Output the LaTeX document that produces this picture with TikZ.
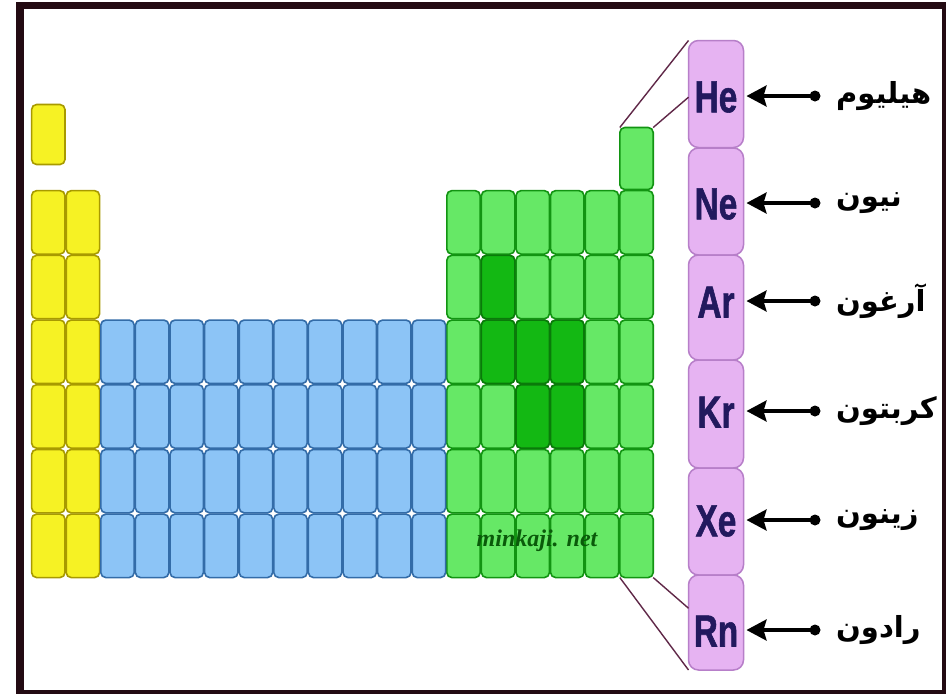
\documentclass[tikz,border=0pt]{standalone}
\usepackage{fontspec}
\usetikzlibrary{arrows.meta,calc}
\TeXXeTstate=1
\newfontfamily\arabicfont[Script=Arabic]{DejaVu Sans}
\newfontfamily\elfont[FakeStretch=0.74,FakeBold=1.2]{Liberation Sans}
\newfontfamily\webfont{Liberation Serif}
\definecolor{frameC}{HTML}{230A12}
\definecolor{yelF}{HTML}{F6F224}
\definecolor{yelD}{HTML}{A89A00}
\definecolor{bluF}{HTML}{8CC4F6}
\definecolor{bluD}{HTML}{336CA8}
\definecolor{grnF}{HTML}{66E866}
\definecolor{grnD}{HTML}{129412}
\definecolor{dgrF}{HTML}{13B813}
\definecolor{dgrD}{HTML}{0A7A0A}
\definecolor{purF}{HTML}{E6B3F2}
\definecolor{purD}{HTML}{B77FC9}
\definecolor{elC}{HTML}{22195E}
\definecolor{linkC}{HTML}{602848}
\definecolor{webC}{HTML}{0A5A0A}
\tikzset{
  cellbox/.style={rectangle, rounded corners=5pt, minimum width=33.4pt, minimum height=63.4pt, inner sep=0pt, outer sep=0pt, line width=1.6pt},
  ycell/.style={cellbox, fill=yelF, draw=yelD},
  bcell/.style={cellbox, fill=bluF, draw=bluD},
  gcell/.style={cellbox, fill=grnF, draw=grnD},
  dcell/.style={cellbox, fill=dgrF, draw=dgrD},
  pbox/.style={rectangle, rounded corners=10pt, minimum width=55pt, inner sep=0pt, outer sep=0pt, fill=purF, draw=purD, line width=1.5pt},
  eltext/.style={font=\elfont\bfseries\fontsize{45}{45}\selectfont, text=elC, inner sep=0pt},
  artext/.style={font=\arabicfont\bfseries\fontsize{29}{29}\selectfont, text=black, anchor=west, inner sep=0pt},
  pointer/.style={line width=3.5pt, -{Stealth[length=20pt,width=21pt,inset=3pt]}},
  dotmark/.style={circle, fill=black, minimum size=11pt, inner sep=0pt},
  linkline/.style={draw=linkC, line width=1.4pt}
}
\begin{document}
\begin{tikzpicture}[x=1pt,y=-1pt]
\useasboundingbox (0,0) rectangle (946,694);
\fill[white] (0,0) rectangle (946,694);
\fill[frameC] (16,2) rectangle (946,694);
\fill[white] (24,9) rectangle (942,690);
% H and He
\node[ycell, minimum height=60pt] (H) at ({31+0.5*34.6},134.5) {};
\node[gcell, minimum height=62pt] (He) at ({31+17.5*34.6},158.5) {};
% main grid
\foreach \r in {2,...,7}{
  \foreach \c in {1,2}{
    \node[ycell] (c-\r-\c) at ({31+(\c-0.5)*34.6},{190+(\r-2)*64.7+32.35}) {};
  }
  \foreach \c in {13,...,18}{
    \node[gcell] (c-\r-\c) at ({31+(\c-0.5)*34.6},{190+(\r-2)*64.7+32.35}) {};
  }
}
\foreach \r in {4,...,7}{
  \foreach \c in {3,...,12}{
    \node[bcell] (c-\r-\c) at ({31+(\c-0.5)*34.6},{190+(\r-2)*64.7+32.35}) {};
  }
}
\foreach \r/\c in {3/14,4/14,4/15,4/16,5/15,5/16}{
  \node[dcell] (k-\r-\c) at ({31+(\c-0.5)*34.6},{190+(\r-2)*64.7+32.35}) {};
}
\node[font=\webfont\itshape\bfseries\fontsize{24}{24}\selectfont, text=webC] (web) at (537,541) {minkaji. net};
% purple column
\node[pbox, minimum height=107pt] (pHe) at (716,94) {};
\node[pbox, minimum height=107pt] (pNe) at (716,201.5) {};
\node[pbox, minimum height=105pt] (pAr) at (716,307.5) {};
\node[pbox, minimum height=108pt] (pKr) at (716,414) {};
\node[pbox, minimum height=107pt] (pXe) at (716,521.5) {};
\node[pbox, minimum height=95pt] (pRn) at (716,622.5) {};
\node[eltext] (tHe) at (716,97) {He};
\node[eltext] (tNe) at (716,204) {Ne};
\node[eltext] (tAr) at (716,302) {Ar};
\node[eltext] (tKr) at (716,412) {Kr};
\node[eltext] (tXe) at (716,521) {Xe};
\node[eltext] (tRn) at (716,631) {Rn};
% links
\draw[linkline] (He.north west) -- (pHe.north west);
\draw[linkline] (He.north east) -- ($(pHe.north west)!0.53!(pHe.south west)$);
\draw[linkline] (c-7-18.south west) -- (pRn.south west);
\draw[linkline] (c-7-18.south east) -- ($(pRn.north west)!0.35!(pRn.south west)$);
% arrows and labels
\foreach \e/\y/\t in {He/96/هيليوم, Ne/203/نيون, Ar/301/آرغون, Kr/411/كربتون, Xe/520/زينون, Rn/630/رادون}{
  \node[dotmark] (d\e) at (815,\y) {};
  \draw[pointer] (d\e.center) -- ($(p\e.east |- d\e)+(3,0)$);
  \node[artext] (l\e) at (836,\y) {\beginR \t\endR};
}
\end{tikzpicture}
\end{document}
